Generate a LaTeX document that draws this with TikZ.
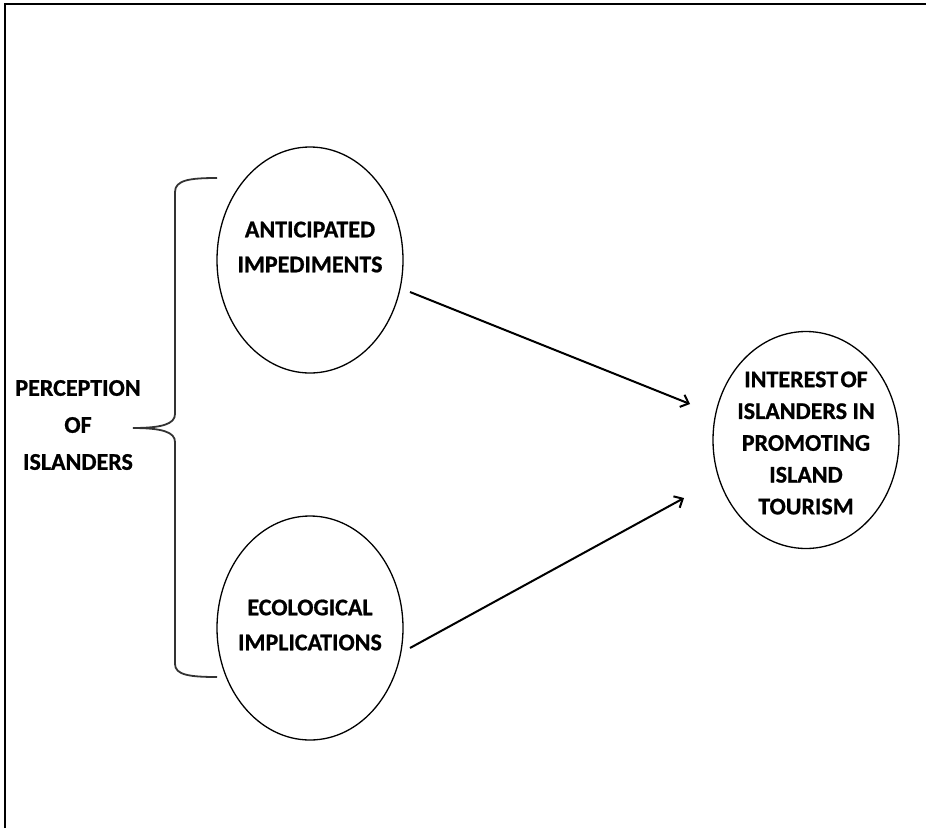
\documentclass[tikz,border=0pt]{standalone}
\usepackage{fontspec}
\setmainfont{Carlito}[BoldFeatures={FakeBold=0.8}]
\usetikzlibrary{shapes.geometric,arrows.meta}
\tikzset{
  oval/.style={draw, ellipse, line width=1.3pt, inner sep=0pt, minimum width=186pt},
  lbl/.style={font=\bfseries\fontsize{24}{35}\selectfont, align=center, inner sep=0pt},
  conn/.style={line width=2pt, -{Straight Barb[length=7pt,width=13pt,line width=2pt]}},
  brace/.style={line width=1.8pt, draw=black!80},
  frame/.style={line width=2.5pt}
}
\begin{document}
\begin{tikzpicture}[x=1pt,y=-1pt]
\useasboundingbox (0,0) rectangle (926,828);
% frame (left and top edges)
\coordinate (f1) at (5,828);
\coordinate (f2) at (5,4);
\coordinate (f3) at (926,4);
\draw[frame] (f1) -- (f2) -- (f3);
% ellipses
\node[oval, minimum height=226pt] (ant) at (310,260) {};
\node[lbl] (anttext) at (310,247) {ANTICIPATED\\IMPEDIMENTS};
\node[oval, minimum height=224pt] (eco) at (310,628) {};
\node[lbl] (ecotext) at (310,625) {ECOLOGICAL\\IMPLICATIONS};
\node[oval, minimum height=217pt] (int) at (806,440) {};
\node[lbl, font=\bfseries\fontsize{24}{31.8}\selectfont] (inttext) at (806,443) {{\spaceskip=0.1em INTEREST OF}\\ISLANDERS IN\\PROMOTING\\ISLAND\\TOURISM};
% left label
\node[lbl, font=\bfseries\fontsize{24}{37}\selectfont] (per) at (78,425) {PERCEPTION\\OF\\ISLANDERS};
% brace
\coordinate (bt) at (217,178);
\coordinate (bm) at (133,428);
\coordinate (bb) at (217,677);
\draw[brace] (bt) .. controls (190,178) and (175,180) .. (175,192) -- (175,414)
  .. controls (175,424) and (162,428) .. (bm)
  .. controls (162,428) and (175,432) .. (175,442) -- (175,664)
  .. controls (175,675) and (190,677) .. (bb);
% arrows
\coordinate (a1) at (410,292);
\coordinate (a2) at (690,404);
\coordinate (b1) at (410,648);
\coordinate (b2) at (684,498);
\draw[conn] (a1) -- (a2);
\draw[conn] (b1) -- (b2);
\end{tikzpicture}
\end{document}
